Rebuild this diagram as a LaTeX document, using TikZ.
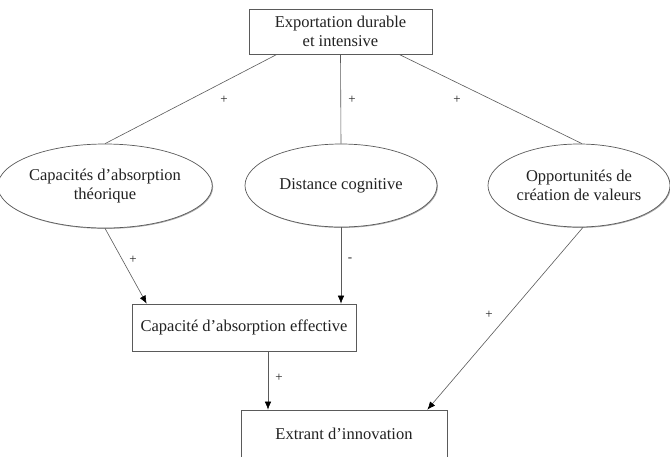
\documentclass[tikz,border=0pt]{standalone}
\usepackage{fontspec}
\setmainfont{Liberation Serif}
\usetikzlibrary{arrows.meta,shapes.geometric,shadows}
\definecolor{linegray}{HTML}{5A5A5A}
\definecolor{textgray}{HTML}{222222}
\begin{document}
\begin{tikzpicture}[x=1pt,y=-1pt,
  shd/.style={drop shadow={shadow xshift=0.9pt,shadow yshift=-0.9pt,opacity=0.35,fill=black}},
  boxnode/.style={draw=linegray, line width=0.7pt, fill=white, shd, inner sep=0pt, align=center,
    text=textgray, font=\fontsize{16.5}{19}\selectfont},
  ellnode/.style={ellipse, draw=linegray, line width=0.7pt, fill=white, shd, inner sep=0pt, align=center,
    text=textgray, font=\fontsize{16.5}{19}\selectfont},
  conn/.style={draw=linegray, line width=0.6pt},
  arr/.style={conn, -{Latex[length=8pt,width=6.5pt,color=black]}},
  lbl/.style={text=textgray, font=\fontsize{13}{15}\selectfont, inner sep=0pt}]
\fill[white] (0,0) rectangle (670,456);
\useasboundingbox (0,0) rectangle (670,456);

\node[boxnode, minimum width=183pt, minimum height=45pt] (top) at (340.5,31.5) {Exportation durable\\et intensive};
\node[ellnode, minimum width=194pt, minimum height=84pt] (cat) at (105,186) {Capacités d’absorption\\théorique};
\node[ellnode, minimum width=192pt, minimum height=83pt] (dc) at (341,185.5) {Distance cognitive};
\node[ellnode, minimum width=182pt, minimum height=83pt] (ocv) at (579,185.5) {Opportunités de\\création de valeurs};
\node[boxnode, minimum width=224pt, minimum height=47pt] (cae) at (244,327.5) {Capacité d’absorption effective};
\node[boxnode, minimum width=206pt, minimum height=48pt] (ei) at (344,434) {Extrant d’innovation};

\draw[conn] ([xshift=-63.5pt]top.south) -- (cat.north);
\draw[conn] (top.south) -- (dc.north);
\draw[conn] ([xshift=58.5pt]top.south) -- ([xshift=3pt]ocv.north);
\draw[arr] (cat.south) -- ([xshift=15pt]cae.north west);
\draw[arr] (dc.south) -- (dc.south |- cae.north);
\draw[arr] ([xshift=24pt]cae.south) -- ([xshift=24pt]cae.south |- ei.north);
\draw[arr] ([xshift=4pt]ocv.south) -- ([xshift=-20pt]ei.north east);

\node[lbl] (l1) at (224,100) {+};
\node[lbl] (l2) at (352,100) {+};
\node[lbl] (l3) at (457,100) {+};
\node[lbl] (l4) at (133,260) {+};
\node[lbl] (l5) at (350,260) {-};
\node[lbl] (l6) at (489,315) {+};
\node[lbl] (l7) at (279,378) {+};
\end{tikzpicture}
\end{document}
